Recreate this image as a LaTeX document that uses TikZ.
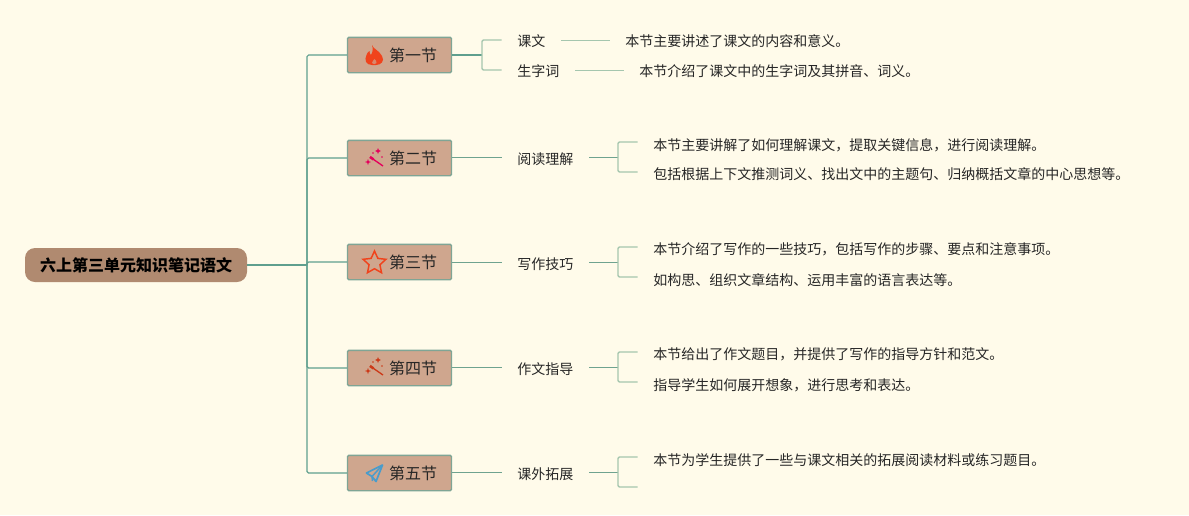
\documentclass[tikz,border=0pt]{standalone}
\usepackage{fontspec}
\setmainfont{Noto Sans CJK SC}
\usetikzlibrary{shapes.geometric}
\definecolor{bgc}{HTML}{FFFBEA}
\definecolor{boxc}{HTML}{CFA68E}
\definecolor{boxb}{HTML}{7FA595}
\definecolor{rootc}{HTML}{B08A70}
\definecolor{trunkc}{HTML}{5F9F8E}
\definecolor{forkc}{HTML}{A5C6AE}
\definecolor{thinc}{HTML}{6FA38F}
\definecolor{txt}{HTML}{262626}
\definecolor{planec}{HTML}{4A9CCB}
\definecolor{flamec}{HTML}{F0431C}
\tikzset{
  x=0.75pt,y=-0.75pt,
  rootnode/.style={fill=rootc,rounded corners=7.5pt,minimum width=166.5pt,minimum height=25.5pt,inner sep=0pt,font=\fontsize{12}{14}\selectfont\bfseries,text=black},
  secbox/.style={fill=boxc,draw=boxb,line width=1pt,rounded corners=1pt,minimum width=78pt,minimum height=26.5pt,inner sep=0pt,text=txt,font=\fontsize{12}{14}\selectfont},
  seclabel/.style={anchor=west,inner xsep=11.7pt,inner ysep=0pt,minimum height=12pt,text=txt,font=\fontsize{10.5}{12}\selectfont},
  detail/.style={anchor=west,inner sep=0pt,text=txt,font=\fontsize{10.5}{12}\selectfont},
  trunk/.style={draw=trunkc,line width=1.3pt,rounded corners=1.2pt},
  thin/.style={draw=thinc,line width=0.6pt},
  fork/.style={draw=forkc,line width=1pt,rounded corners=1pt},
  forkstem/.style={draw=thinc,line width=0.6pt},
}
\newcommand{\wandicon}[3]{%
  \begin{scope}[shift={(#1,#2)}]
    \draw[#3,line width=1pt] (-5,-1) -- (8,8);
    \draw[#3,line width=1.9pt] (-5,-1) -- (-1.5,1.4);
    \fill[#3] (3,-10) -- (3.8,-8) -- (5.8,-7) -- (3.8,-6) -- (3,-4) -- (2.2,-6) -- (0.2,-7) -- (2.2,-8) -- cycle;
    \fill[#3] (-7,1) -- (-6.2,3.2) -- (-4,4) -- (-6.2,4.8) -- (-7,7) -- (-7.8,4.8) -- (-10,4) -- (-7.8,3.2) -- cycle;
    \fill[#3] (-2,-5) circle (0.9);
    \fill[#3] (7,-1) circle (0.9);
  \end{scope}}
\begin{document}
\begin{tikzpicture}
\useasboundingbox[fill=bgc] (0,0) rectangle (1189,515);

\node[rootnode] (root) at (136,265) {六上第三单元知识笔记语文};

\node[secbox] (s1) at (399.5,55) {\hspace*{20.5pt}第一节};
\node[secbox] (s2) at (399.5,158) {\hspace*{20.5pt}第二节};
\node[secbox] (s3) at (399.5,262) {\hspace*{20.5pt}第三节};
\node[secbox] (s4) at (399.5,368) {\hspace*{20.5pt}第四节};
\node[secbox] (s5) at (399.5,473) {\hspace*{20.5pt}第五节};

\coordinate (hub) at (307,265);
\path[trunk] (root.east) -- (hub);
\foreach \n in {s1,s2,s3,s4,s5}{\path[trunk,line width=0.9pt] (hub) |- (\n.west);}

% section 1
\node[seclabel] (l1a) at (501.5,41.5) {课文};
\node[seclabel] (l1b) at (501.5,71) {生字词};
\coordinate (j1) at (482,55);
\coordinate (f1a) at (501.5,40);
\coordinate (f1b) at (501.5,70);
\path[draw=trunkc,line width=1.1pt] (s1.east) -- (j1);
\path[fork] (j1) |- (f1a);
\path[fork] (j1) |- (f1b);
\node[detail] (d1a) at (625,41) {本节主要讲述了课文的内容和意义。};
\node[detail] (d1b) at (639,71) {本节介绍了课文中的生字词及其拼音、词义。};
\coordinate (e1a) at (609.5,40);
\coordinate (e1b) at (624,70);
\path[fork,line width=0.7pt] (l1a.east |- e1a) -- (e1a);
\path[fork,line width=0.7pt] (l1b.east |- e1b) -- (e1b);

% sections 2-5
\foreach \n/\t/\y/\ya/\yb/\la in {
  2/阅读理解/159/142/172/157,
  3/写作技巧/264/247/277/262,
  4/作文指导/369/352/382/367,
  5/课外拓展/474/457/487/472}{
  \node[seclabel] (l\n) at (501.5,\y) {\t};
  \coordinate (j\n) at (618,\la);
  \coordinate (a\n) at (637.5,\ya);
  \coordinate (b\n) at (637.5,\yb);
  \coordinate (c\n) at (501.5,\la);
  \path[thin] (s\n.east |- c\n) -- (c\n);
  \path[forkstem] (l\n.east |- j\n) -- (j\n);
  \path[fork] (j\n) |- (a\n);
  \path[fork] (j\n) |- (b\n);
}
\node[detail] (d2a) at (653,145) {本节主要讲解了如何理解课文，提取关键信息，进行阅读理解。};
\node[detail] (d2b) at (653,174) {包括根据上下文推测词义、找出文中的主题句、归纳概括文章的中心思想等。};
\node[detail] (d3a) at (653,249) {本节介绍了写作的一些技巧，包括写作的步骤、要点和注意事项。};
\node[detail] (d3b) at (653,280) {如构思、组织文章结构、运用丰富的语言表达等。};
\node[detail] (d4a) at (653,354) {本节给出了作文题目，并提供了写作的指导方针和范文。};
\node[detail] (d4b) at (653,385) {指导学生如何展开想象，进行思考和表达。};
\node[detail] (d5a) at (653,460) {本节为学生提供了一些与课文相关的拓展阅读材料或练习题目。};

% icons
\fill[flamec] (372,45) .. controls (373,49) and (379,50) .. (382,56)
  .. controls (385,61) and (381,65) .. (376,65) -- (372,65)
  .. controls (366,65) and (364,60) .. (366.5,55)
  .. controls (367,53) and (368,52) .. (369.5,51)
  .. controls (369.5,53) and (370,54) .. (371,55)
  .. controls (373,52) and (373,48) .. (372,45) -- cycle;
\fill[boxc!70!flamec] (374.5,59) .. controls (375.5,60) and (377,61.5) .. (376.5,63)
  .. controls (376,64.5) and (372.5,64.5) .. (372,63)
  .. controls (372,61.5) and (373.5,60.5) .. (374.5,59) -- cycle;
\wandicon{375}{158}{red!60!magenta!90!black}
\wandicon{375}{367}{flamec!85!black}
\node[star,star points=5,star point ratio=2.1,draw=flamec,line width=1.1pt,fill=none,minimum size=18pt,inner sep=0pt] (stari) at (374.5,263) {};
\begin{scope}[line join=round]
\draw[draw=planec,line width=1.3pt] (382.5,465) -- (366.5,473) -- (372,476.5) -- (376,481.5) -- cycle;
\draw[draw=planec,line width=1.1pt] (382.5,465) -- (372,476.5) -- (372.5,481);
\end{scope}
\end{tikzpicture}
\end{document}
